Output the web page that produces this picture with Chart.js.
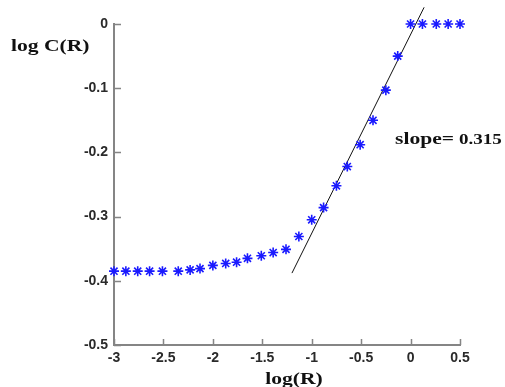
<!DOCTYPE html>
<html>
<head>
<meta charset="utf-8">
<script src="https://cdn.jsdelivr.net/npm/chart.js@4"></script>
<style>
  html, body { margin: 0; padding: 0; background: #fff; }
</style>
</head>
<body>
<canvas id="grafico" width="505" height="387"></canvas>
<script>
// Datos: log(R) vs log C(R)
const logR = [
  -3.00, -2.88, -2.76, -2.64, -2.51, -2.35, -2.23, -2.13, -2.00, -1.87,
  -1.76, -1.65, -1.51, -1.39, -1.26, -1.13, -1.00, -0.88, -0.75, -0.64,
  -0.51, -0.38, -0.25, -0.13, 0.00, 0.12, 0.26, 0.38, 0.50,
];
const logC = [
  -0.385, -0.385, -0.385, -0.385, -0.385, -0.385, -0.383, -0.381, -0.376, -0.373,
  -0.371, -0.365, -0.361, -0.356, -0.351, -0.331, -0.305, -0.286, -0.252, -0.222,
  -0.188, -0.150, -0.103, -0.050, 0.000, 0.000, 0.000, 0.000, 0.000,
];

// Recta de ajuste (pendiente ~0.315)
const ajusteX = [-1.20, 0.137];
const ajusteY = [-0.388, 0.026];

const ticksX = [-3, -2.5, -2, -1.5, -1, -0.5, 0, 0.5];
const ticksY = [0, -0.1, -0.2, -0.3, -0.4, -0.5];

const COLOR_EJE = '#858585';
const ESTIRAR = 1.27; // el texto original está estirado horizontalmente

function textoEstirado(ctx, texto, x, y, escala) {
  ctx.save();
  ctx.translate(x, y);
  ctx.scale(escala, 1);
  ctx.fillText(texto, 0, 0);
  ctx.restore();
}

const decoraciones = {
  id: 'decoraciones',
  afterDraw(chart) {
    const { ctx, chartArea } = chart;
    const x = chart.scales.x;
    const y = chart.scales.y;

    // marcas de los ejes hacia adentro
    ctx.save();
    ctx.strokeStyle = COLOR_EJE;
    ctx.lineWidth = 1.5;
    ctx.beginPath();
    ticksX.forEach(v => {
      const px = Math.round(x.getPixelForValue(v)) + 0.5;
      ctx.moveTo(px, chartArea.bottom);
      ctx.lineTo(px, chartArea.bottom - 6);
    });
    ticksY.forEach(v => {
      const py = Math.round(y.getPixelForValue(v)) + 0.5;
      ctx.moveTo(chartArea.left, py);
      ctx.lineTo(chartArea.left + 7, py);
    });
    ctx.stroke();

    // títulos y anotación
    ctx.fillStyle = '#111';
    ctx.textAlign = 'left';
    ctx.textBaseline = 'alphabetic';
    ctx.font = 'bold 17px "Liberation Serif", "Times New Roman", serif';
    textoEstirado(ctx, 'log C(R)', 11, 51, ESTIRAR);

    const anchoLog = ctx.measureText('log(R)').width * ESTIRAR;
    textoEstirado(ctx, 'log(R)', 294 - anchoLog / 2, 384, ESTIRAR);

    textoEstirado(ctx, 'slope=', 395, 144, ESTIRAR);
    ctx.font = 'bold 15px "Liberation Serif", "Times New Roman", serif';
    textoEstirado(ctx, '0.315', 459, 144, ESTIRAR);
    ctx.restore();
  },
};

const puntos = logR.map((v, i) => ({ x: v, y: logC[i] }));
const recta = ajusteX.map((v, i) => ({ x: v, y: ajusteY[i] }));

const fuenteTicks = { family: '"Liberation Sans", Arial, sans-serif', size: 14, weight: 'bold' };

new Chart(document.getElementById('grafico'), {
  type: 'scatter',
  data: {
    datasets: [
      {
        label: 'log C(R)',
        data: puntos,
        pointStyle: 'star',
        pointRadius: 5,
        borderColor: '#1a1aff',
        backgroundColor: '#1a1aff',
        borderWidth: 1.6,
        clip: false,
      },
      {
        type: 'line',
        label: 'ajuste',
        data: recta,
        borderColor: '#111',
        borderWidth: 1,
        pointRadius: 0,
        clip: false,
      },
    ],
  },
  options: {
    responsive: false,
    animation: false,
    events: [],
    layout: { padding: { top: 24, right: 45, left: 0, bottom: 0 } },
    plugins: {
      legend: { display: false },
      tooltip: { enabled: false },
    },
    scales: {
      x: {
        type: 'linear',
        min: -3,
        max: 0.5,
        afterBuildTicks: s => { s.ticks = ticksX.map(v => ({ value: v })); },
        afterFit: s => { s.height = 42; },
        grid: { display: false, drawTicks: false },
        border: { display: true, color: COLOR_EJE, width: 2 },
        ticks: {
          color: '#2a2a2a',
          padding: 5,
          maxRotation: 0,
          font: fuenteTicks,
          callback: v => String(v),
        },
      },
      y: {
        type: 'linear',
        min: -0.5,
        max: 0,
        afterBuildTicks: s => { s.ticks = ticksY.map(v => ({ value: v })); },
        afterFit: s => { s.width = 114; },
        grid: { display: false, drawTicks: false },
        border: { display: true, color: COLOR_EJE, width: 2 },
        ticks: {
          color: '#2a2a2a',
          padding: 6,
          font: fuenteTicks,
          callback: v => String(v),
        },
      },
    },
  },
  plugins: [decoraciones],
});
</script>
</body>
</html>
